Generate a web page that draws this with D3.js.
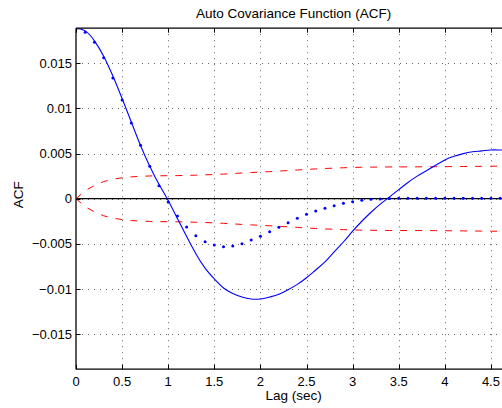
<!DOCTYPE html>
<html>
<head>
<meta charset="utf-8">
<script src="https://cdn.jsdelivr.net/npm/d3@7"></script>
<style>
html,body{margin:0;padding:0;background:#fff;}
svg{display:block;font-family:"Liberation Sans",Arial,Helvetica,sans-serif;}
</style>
</head>
<body>
<svg id="chart" width="502" height="408"></svg>
<script>
// ---- data (lag step 0.1 s) ----
const lags = d3.range(0, 48).map(i => +(i * 0.1).toFixed(1));
const theoryACF = [0.0189,0.0186,0.0175,0.0158,0.0136,0.0111,0.0085,0.0059,0.0036,0.0016,
  -0.0002,-0.0022,-0.0042,-0.0061,-0.0077,-0.0089,-0.0099,-0.0105,-0.0109,-0.01112,
  -0.01112,-0.0109,-0.0106,-0.0101,-0.0095,-0.00876,-0.0079,-0.0070,-0.0059,-0.0048,
  -0.0036,-0.0025,-0.0015,-0.0006,0.0002,0.0010,0.0018,0.0025,0.0031,0.0037,
  0.0043,0.0047,0.0050,0.0052,0.0053,0.0054,0.0054,0.0054];
const sampleACF = [0.0188,0.01845,0.01734,0.01563,0.01338,0.01094,0.00839,0.00592,0.00359,0.00144,
  -0.00037,-0.00192,-0.00314,-0.0041,-0.00477,-0.00513,-0.00532,-0.00524,-0.00499,-0.00458,
  -0.00417,-0.00366,-0.00317,-0.00266,-0.00217,-0.00173,-0.00136,-0.00106,-0.00078,-0.00051,
  -0.00033,-0.00018,-0.00007,-0.00002,0.00003,0.00004,0.00004,0.00004,0.00004,0.00004,
  0.00004,0.00004,0.00004,0.00004,0.00004,0.00004,0.00004,0.00004];
const confBound = [0,0.0009,0.00145,0.0019,0.00215,0.00232,0.00242,0.00248,0.00252,0.00254,
  0.00255,0.00256,0.00258,0.00261,0.00264,0.00268,0.00273,0.00279,0.00285,0.0029,
  0.00295,0.003,0.00306,0.00312,0.00318,0.00325,0.0033,0.00335,0.00339,0.00343,
  0.00346,0.00349,0.0035,0.00351,0.00352,0.00352,0.00353,0.00353,0.00354,0.00354,
  0.00355,0.00356,0.00357,0.00358,0.00359,0.0036,0.00361,0.00362];
const xTicks = [0,0.5,1,1.5,2,2.5,3,3.5,4,4.5];
const xTickLabels = ["0","0.5","1","1.5","2","2.5","3","3.5","4","4.5"];
const yTicks = [-0.015,-0.01,-0.005,0,0.005,0.01,0.015];
const yTickLabels = ["\u22120.015","\u22120.01","\u22120.005","0","0.005","0.01","0.015"];
const titleText = "Auto Covariance Function (ACF)";
const xLabel = "Lag (sec)";
const yLabel = "ACF";

// ---- layout ----
const L = 76, R = 511.2, T = 28.2, B = 369.2;
const svg = d3.select("#chart");
const x = d3.scaleLinear().domain([0, 4.72]).range([L, R]);
const y = d3.scaleLinear().domain([-0.0189, 0.0189]).range([B, T]);

svg.append("defs").append("clipPath").attr("id","clip")
  .append("rect").attr("x",L).attr("y",T).attr("width",R-L).attr("height",B-T);

// grid
const grid = svg.append("g").attr("stroke","#333").attr("stroke-width",1)
  .attr("stroke-dasharray","1,5").attr("opacity",0.75);
grid.selectAll(".gx").data(xTicks.slice(1)).join("line")
  .attr("x1",d=>Math.round(x(d))+0.5).attr("x2",d=>Math.round(x(d))+0.5)
  .attr("y1",T).attr("y2",B);
grid.selectAll(".gy").data(yTicks).join("line")
  .attr("y1",d=>Math.round(y(d))+0.5).attr("y2",d=>Math.round(y(d))+0.5)
  .attr("x1",L).attr("x2",R);

const plot = svg.append("g").attr("clip-path","url(#clip)");

// zero line
plot.append("line").attr("x1",L).attr("x2",R)
  .attr("y1",y(0)).attr("y2",y(0)).attr("stroke","#000").attr("stroke-width",1.2);

// confidence bounds
const bLine = d3.line().x((d,i)=>x(lags[i])).y(d=>y(d));
plot.append("path").datum(confBound).attr("d",bLine)
  .attr("fill","none").attr("stroke","#ff0000").attr("stroke-width",1)
  .attr("stroke-dasharray","7,8");
plot.append("path").datum(confBound.map(v=>-v)).attr("d",bLine)
  .attr("fill","none").attr("stroke","#ff0000").attr("stroke-width",1)
  .attr("stroke-dasharray","7,8");

// theoretical ACF line
const tLine = d3.line().curve(d3.curveNatural).x((d,i)=>x(lags[i])).y(d=>y(d));
plot.append("path").datum(theoryACF).attr("d",tLine)
  .attr("fill","none").attr("stroke","#0000ff").attr("stroke-width",1.1);

// sample ACF dots
plot.selectAll("circle").data(sampleACF).join("circle")
  .attr("cx",(d,i)=>x(lags[i])).attr("cy",d=>y(d)).attr("r",1.5)
  .attr("fill","#0000ff");

// axes box
const ax = svg.append("g").attr("stroke","#000").attr("stroke-width",1.3).attr("fill","none");
ax.append("line").attr("x1",L).attr("x2",R).attr("y1",T).attr("y2",T);
ax.append("line").attr("x1",L).attr("x2",R).attr("y1",B).attr("y2",B);
ax.append("line").attr("x1",L).attr("x2",L).attr("y1",T).attr("y2",B);

// ticks
const tk = svg.append("g").attr("stroke","#000").attr("stroke-width",1);
tk.selectAll(".tb").data(xTicks).join("line")
  .attr("x1",d=>Math.round(x(d))+0.5).attr("x2",d=>Math.round(x(d))+0.5)
  .attr("y1",B).attr("y2",B-4.5);
tk.selectAll(".tt").data(xTicks).join("line")
  .attr("x1",d=>Math.round(x(d))+0.5).attr("x2",d=>Math.round(x(d))+0.5)
  .attr("y1",T).attr("y2",T+4.5);
tk.selectAll(".tl").data(yTicks).join("line")
  .attr("y1",d=>Math.round(y(d))+0.5).attr("y2",d=>Math.round(y(d))+0.5)
  .attr("x1",L).attr("x2",L+4.5);

// tick labels
svg.append("g").selectAll("text").data(xTicks).join("text")
  .attr("x",d=>x(d)).attr("y",386).attr("text-anchor","middle")
  .attr("font-size",13).attr("fill","#000").text((d,i)=>xTickLabels[i]);
svg.append("g").selectAll("text").data(yTicks).join("text")
  .attr("x",72).attr("y",d=>y(d)+4.6).attr("text-anchor","end")
  .attr("font-size",13).attr("fill","#000").text((d,i)=>yTickLabels[i]);

// title & labels
svg.append("text").attr("x",(L+R)/2).attr("y",17.5).attr("text-anchor","middle")
  .attr("font-size",13.5).attr("fill","#000").text(titleText);
svg.append("text").attr("x",(L+R)/2).attr("y",400).attr("text-anchor","middle")
  .attr("font-size",13.5).attr("fill","#000").text(xLabel);
svg.append("text").attr("transform","translate(23,"+((T+B)/2-4)+") rotate(-90)")
  .attr("text-anchor","middle").attr("font-size",13.5).attr("fill","#000").text(yLabel);
</script>
</body>
</html>
